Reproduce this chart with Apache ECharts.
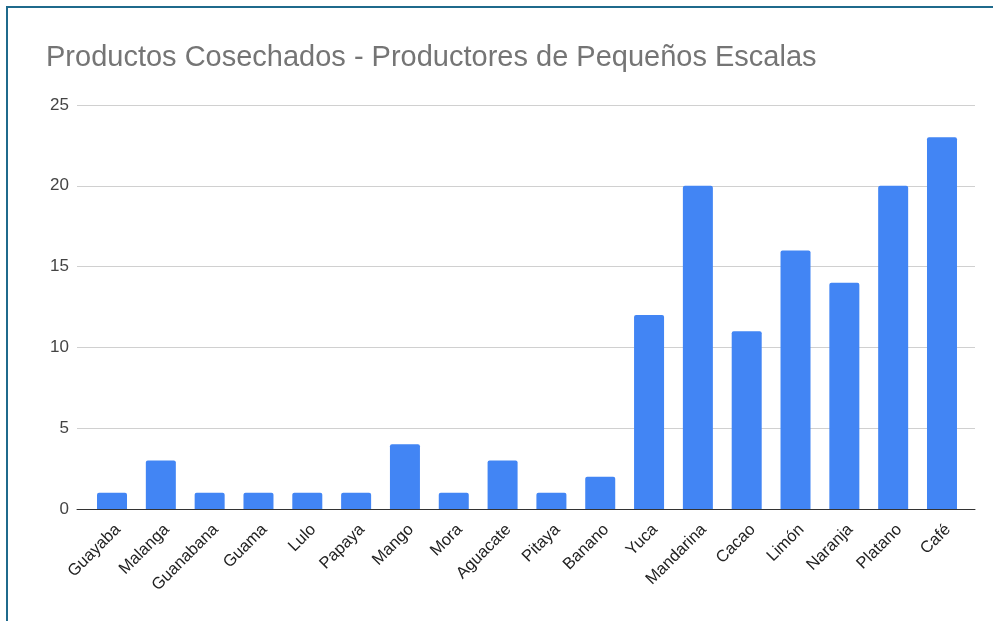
<!DOCTYPE html>
<html>
<head>
<meta charset="utf-8">
<script src="https://cdn.jsdelivr.net/npm/echarts@6/dist/echarts.min.js"></script>
<style>
html,body{margin:0;padding:0;background:#fff;}
#chart{position:absolute;left:0;top:0;width:993px;height:621px;}
#frame{position:absolute;left:6px;top:6px;width:1000px;height:700px;border-left:2px solid #1f6a8c;border-top:2px solid #1f6a8c;pointer-events:none;}
</style>
</head>
<body>
<div id="chart"></div>
<div id="frame"></div>
<script>
const titleText = 'Productos Cosechados - Productores de Pequeños Escalas';
const categories = ['Guayaba','Malanga','Guanabana','Guama','Lulo','Papaya','Mango','Mora','Aguacate','Pitaya','Banano','Yuca','Mandarina','Cacao','Limón','Naranja','Platano','Café'];
const values = [1,3,1,1,1,1,4,1,3,1,2,12,20,11,16,14,20,23];
const yTicks = [0,5,10,15,20,25];

const chart = echarts.init(document.getElementById('chart'), null, {renderer:'canvas'});
const font = '"Liberation Sans", Arial, sans-serif';
chart.setOption({
  animation:false,
  backgroundColor:'#fff',
  title:{text:titleText,left:41,top:38,textStyle:{fontFamily:font,fontSize:29,fontWeight:'normal',color:'#757575'}},
  grid:[
    {left:77,right:18,top:105,bottom:112},
    {left:87.6,right:26.6,top:105,bottom:112}
  ],
  xAxis:[
    {gridIndex:0,type:'category',data:categories,
      axisLine:{show:true,lineStyle:{color:'#333',width:1}},axisTick:{show:false},axisLabel:{show:false}},
    {gridIndex:1,type:'category',data:categories,
      axisLine:{show:false},axisTick:{show:false},
      axisLabel:{rotate:45,interval:0,margin:12,verticalAlign:'top',fontFamily:font,fontSize:16.5,color:'#222'}}
  ],
  yAxis:[
    {gridIndex:0,type:'value',min:yTicks[0],max:yTicks[yTicks.length-1],interval:5,
      axisLine:{show:false},axisTick:{show:false},
      axisLabel:{margin:8,fontFamily:font,fontSize:17,color:'#444'},
      splitLine:{lineStyle:{color:'#d0d0d0',width:1}}},
    {gridIndex:1,type:'value',min:yTicks[0],max:yTicks[yTicks.length-1],interval:5,show:false}
  ],
  series:[
    {type:'bar',xAxisIndex:1,yAxisIndex:1,data:values,barWidth:30,
      itemStyle:{color:'#4285f4',borderRadius:[2,2,0,0]}}
  ]
});
</script>
</body>
</html>
